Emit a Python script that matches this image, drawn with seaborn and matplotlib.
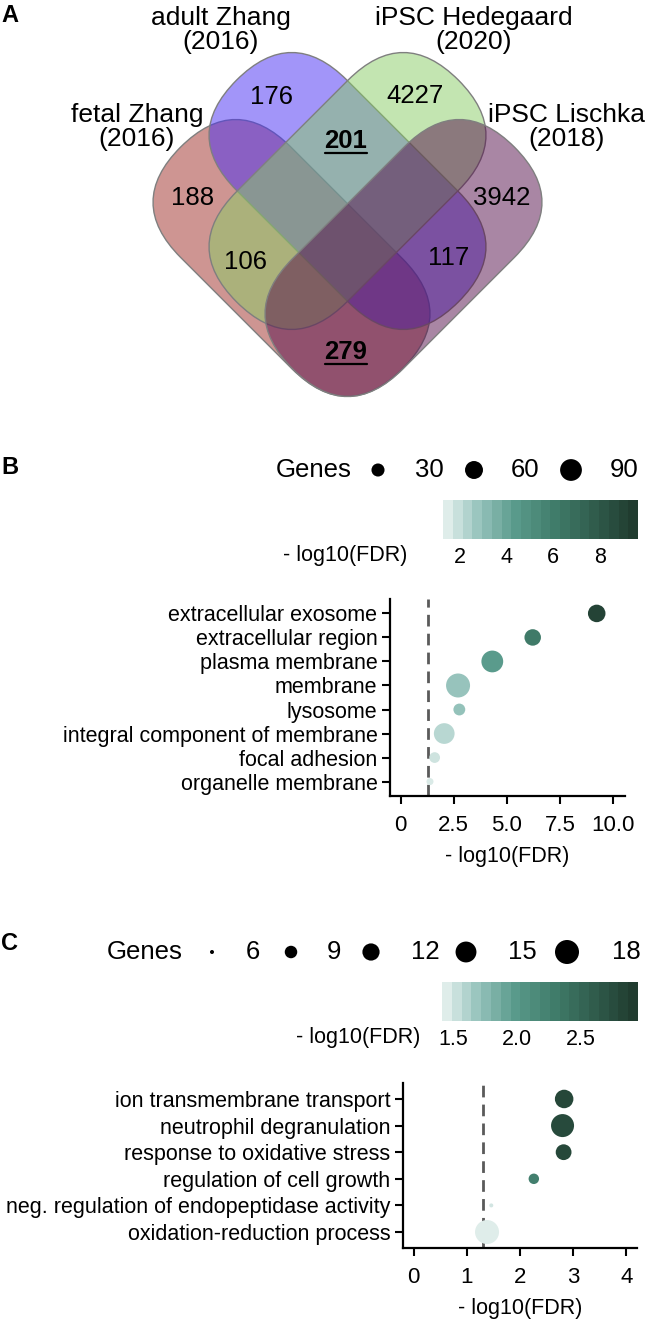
import numpy as np
import pandas as pd
import matplotlib
matplotlib.use('Agg')
import matplotlib.pyplot as plt
import seaborn as sns
from matplotlib.patches import FancyBboxPatch
from matplotlib.transforms import Affine2D
from matplotlib.colors import LinearSegmentedColormap, Normalize
from matplotlib.cm import ScalarMappable

# ===========================
# DATA
# ===========================
venn_names = ['fetal Zhang\n(2016)', 'adult Zhang\n(2016)',
              'iPSC Hedegaard\n(2020)', 'iPSC Lischka\n(2018)']
venn_colors = ['#9f2d27', '#472df5', '#89cd65', '#550f4b']
venn_counts = [188, 176, 4227, 3942, 201, 106, 117, 279]
venn_bold = [False, False, False, False, True, False, False, True]

b_terms = ['extracellular exosome', 'extracellular region', 'plasma membrane',
           'membrane', 'lysosome', 'integral component of membrane',
           'focal adhesion', 'organelle membrane']
b_fdr = [9.22, 6.21, 4.31, 2.70, 2.76, 2.05, 1.60, 1.38]
b_genes = [57, 50, 90, 110, 24, 81, 19, 6]
b_legend_genes = [30, 60, 90]
b_xticks = [0, 2.5, 5.0, 7.5, 10.0]
b_xticklabels = ['0', '2.5', '5.0', '7.5', '10.0']
b_cbar_ticks = [2, 4, 6, 8]
b_cbar_labels = ['2', '4', '6', '8']
b_cbar_lim = (1.27, 9.64)

c_terms = ['ion transmembrane transport', 'neutrophil degranulation',
           'response to oxidative stress', 'regulation of cell growth',
           'neg. regulation of endopeptidase activity',
           'oxidation-reduction process']
c_fdr = [2.83, 2.80, 2.82, 2.26, 1.46, 1.38]
c_genes = [13, 17, 11, 8, 6, 18]
c_legend_genes = [6, 9, 12, 15, 18]
c_xticks = [0, 1, 2, 3, 4]
c_xticklabels = ['0', '1', '2', '3', '4']
c_cbar_ticks = [1.5, 2.0, 2.5]
c_cbar_labels = ['1.5', '2.0', '2.5']
c_cbar_lim = (1.41, 2.95)

fdr_cutoff = -np.log10(0.05)

# ===========================
# STYLE / LAYOUT (pixels)
# ===========================
W, H = 647, 1322
sns.set_theme(style='ticks')
plt.rcParams['font.family'] = ['Liberation Sans', 'DejaVu Sans']
plt.rcParams.update({'text.color': 'black', 'axes.labelcolor': 'black',
                     'xtick.color': 'black', 'ytick.color': 'black',
                     'axes.edgecolor': 'black'})

cmap = LinearSegmentedColormap.from_list(
    'fdr', [(0.0, '#dfedea'), (0.17, '#96c3bc'), (0.36, '#5a9b8c'),
            (0.59, '#3f7a68'), (1.0, '#203c2f')])

fig = plt.figure(figsize=(W / 100, H / 100), dpi=100)


def px_axes(l, t, r, b, **kw):
    return fig.add_axes([l / W, 1 - b / H, (r - l) / W, (b - t) / H], **kw)


ov = px_axes(0, 0, W, H, zorder=5)
ov.set_xlim(0, W)
ov.set_ylim(H, 0)
ov.axis('off')
ov.patch.set_alpha(0)

# ===========================
# A: VENN
# ===========================
x0 = 347.5
cap_r = 78
cap_len = 157.7
shape_centers = [(x0 - 56, 258), (x0, 191), (x0, 191), (x0 + 56, 258)]
shape_angles = [45, 45, -45, -45]
for (cx, cy), ang, col in zip(shape_centers, shape_angles, venn_colors):
    w = cap_len + 2 * cap_r
    p = FancyBboxPatch((-w / 2, -cap_r), w, 2 * cap_r,
                       boxstyle=f'round,pad=0,rounding_size={cap_r}',
                       facecolor=matplotlib.colors.to_rgba(col, 0.5),
                       edgecolor='#7f7f7f', linewidth=1.0)
    p.set_transform(Affine2D().rotate_deg(ang).translate(cx, cy) + ov.transData)
    ov.add_patch(p)

name_pos = [(137, 127), (221, 30), (474, 30), (567, 127)]
for (tx, ty), name in zip(name_pos, venn_names):
    ov.text(tx, ty, name, ha='center', va='center', fontsize=19, linespacing=1.02)

count_pos = [(193, 198), (272, 97), (415, 96), (502, 198),
             (346, 141), (245, 262), (449, 258), (346, 352)]
renderer = fig.canvas.get_renderer()
for (tx, ty), n, bold in zip(count_pos, venn_counts, venn_bold):
    t = ov.text(tx, ty, str(n), ha='center', va='center', fontsize=18.5,
                fontweight='bold' if bold else 'normal')
    if bold:
        bb = t.get_window_extent(renderer).transformed(ov.transData.inverted())
        ov.plot([bb.x0, bb.x1], [ty + 12, ty + 12], color='black', lw=1.6)

# ===========================
# DOT PLOTS
# ===========================
def dot_panel(terms, fdr, genes, box, px_range):
    l, t, r, b = box
    ax = px_axes(l, t, r, b)
    df = pd.DataFrame({'term': terms, 'fdr': fdr, 'genes': genes})
    smin, smax = [(d * 0.72) ** 2 for d in px_range]
    size_norm = (min(genes), max(genes))
    return ax, df, (smin, smax), size_norm


def draw_dots(ax, df, hue_lim, sizes, size_norm, xlim, xticks, xticklabels):
    ax.axvline(fdr_cutoff, color='#5a5a5a', lw=2.0, dashes=(4.2, 2.6), zorder=1)
    sns.scatterplot(data=df, x='fdr', y='term', hue='fdr', size='genes',
                    palette=cmap, hue_norm=Normalize(*hue_lim),
                    sizes=sizes, size_norm=size_norm, linewidth=0,
                    legend=False, ax=ax, zorder=3)
    n = len(df)
    ax.set_ylim(n - 1 + 0.6, -0.6)
    ax.set_xlim(*xlim)
    ax.set_xticks(xticks)
    ax.set_xticklabels(xticklabels)
    ax.set_xlabel('- log10(FDR)', fontsize=15.5, labelpad=7)
    ax.set_ylabel('')
    ax.tick_params(axis='both', length=6, width=1.5, color='black', pad=3)
    ax.tick_params(axis='x', labelsize=16, pad=8)
    ax.tick_params(axis='y', labelsize=15.5)
    for s in ['left', 'bottom']:
        ax.spines[s].set_linewidth(1.6)
        ax.spines[s].set_color('black')
    sns.despine(ax=ax)
    ax.set_facecolor('white')


def size_legend(values, dot_x, label_x, y, gx, sizes, size_norm):
    ov.text(gx, y, 'Genes', ha='left', va='center', fontsize=18.5)
    sns.scatterplot(x=dot_x, y=[y] * len(values), size=values, sizes=sizes,
                    size_norm=size_norm, color='black', linewidth=0,
                    legend=False, ax=ov, zorder=6)
    for lx, v in zip(label_x, values):
        ov.text(lx, y, str(v), ha='center', va='center', fontsize=18.5)


def color_bar(box, lim, ticks, labels, label_right, label_y):
    l, t, r, b = box
    cax = px_axes(l, t, r, b)
    cb = fig.colorbar(ScalarMappable(norm=Normalize(*lim), cmap=cmap.resampled(20)),
                      cax=cax, orientation='horizontal', ticks=ticks)
    cb.outline.set_visible(False)
    cb.set_ticklabels(labels)
    cax.tick_params(which='major', direction='in', color='white', length=7,
                    width=1.2, top=True, bottom=True, labelsize=15.5, pad=6,
                    labelcolor='black')
    ov.text(label_right, label_y, '- log10(FDR)', ha='right', va='center',
            fontsize=15.5)


# panel B
ax_b, df_b, sizes_b, norm_b = dot_panel(b_terms, b_fdr, b_genes,
                                        (390, 599, 625, 796), (7, 24))
draw_dots(ax_b, df_b, b_cbar_lim, sizes_b, norm_b, (-0.5, 10.55),
          b_xticks, b_xticklabels)
size_legend(b_legend_genes, [378, 474, 571], [429, 525, 624], 470, 276,
            sizes_b, norm_b)
color_bar((443, 500, 638, 539), b_cbar_lim, b_cbar_ticks, b_cbar_labels, 407, 555)

# panel C
ax_c, df_c, sizes_c, norm_c = dot_panel(c_terms, c_fdr, c_genes,
                                        (403, 1083, 637, 1248), (4, 24))
draw_dots(ax_c, df_c, c_cbar_lim, sizes_c, norm_c, (-0.2, 4.2),
          c_xticks, c_xticklabels)
size_legend(c_legend_genes, [212, 291, 371, 466, 567], [253, 334, 425, 522, 626],
            952, 107, sizes_c, norm_c)
color_bar((442, 982, 638, 1021), c_cbar_lim, c_cbar_ticks, c_cbar_labels, 420, 1037)

ov.set_xlim(0, W)
ov.set_ylim(H, 0)
ov.axis('off')

# panel letters
for letter, ly in zip(['A', 'B', 'C'], [15, 467, 943]):
    ov.text(1, ly, letter, ha='left', va='center', fontsize=17, fontweight='bold')

fig.savefig('out.png', dpi=100)
